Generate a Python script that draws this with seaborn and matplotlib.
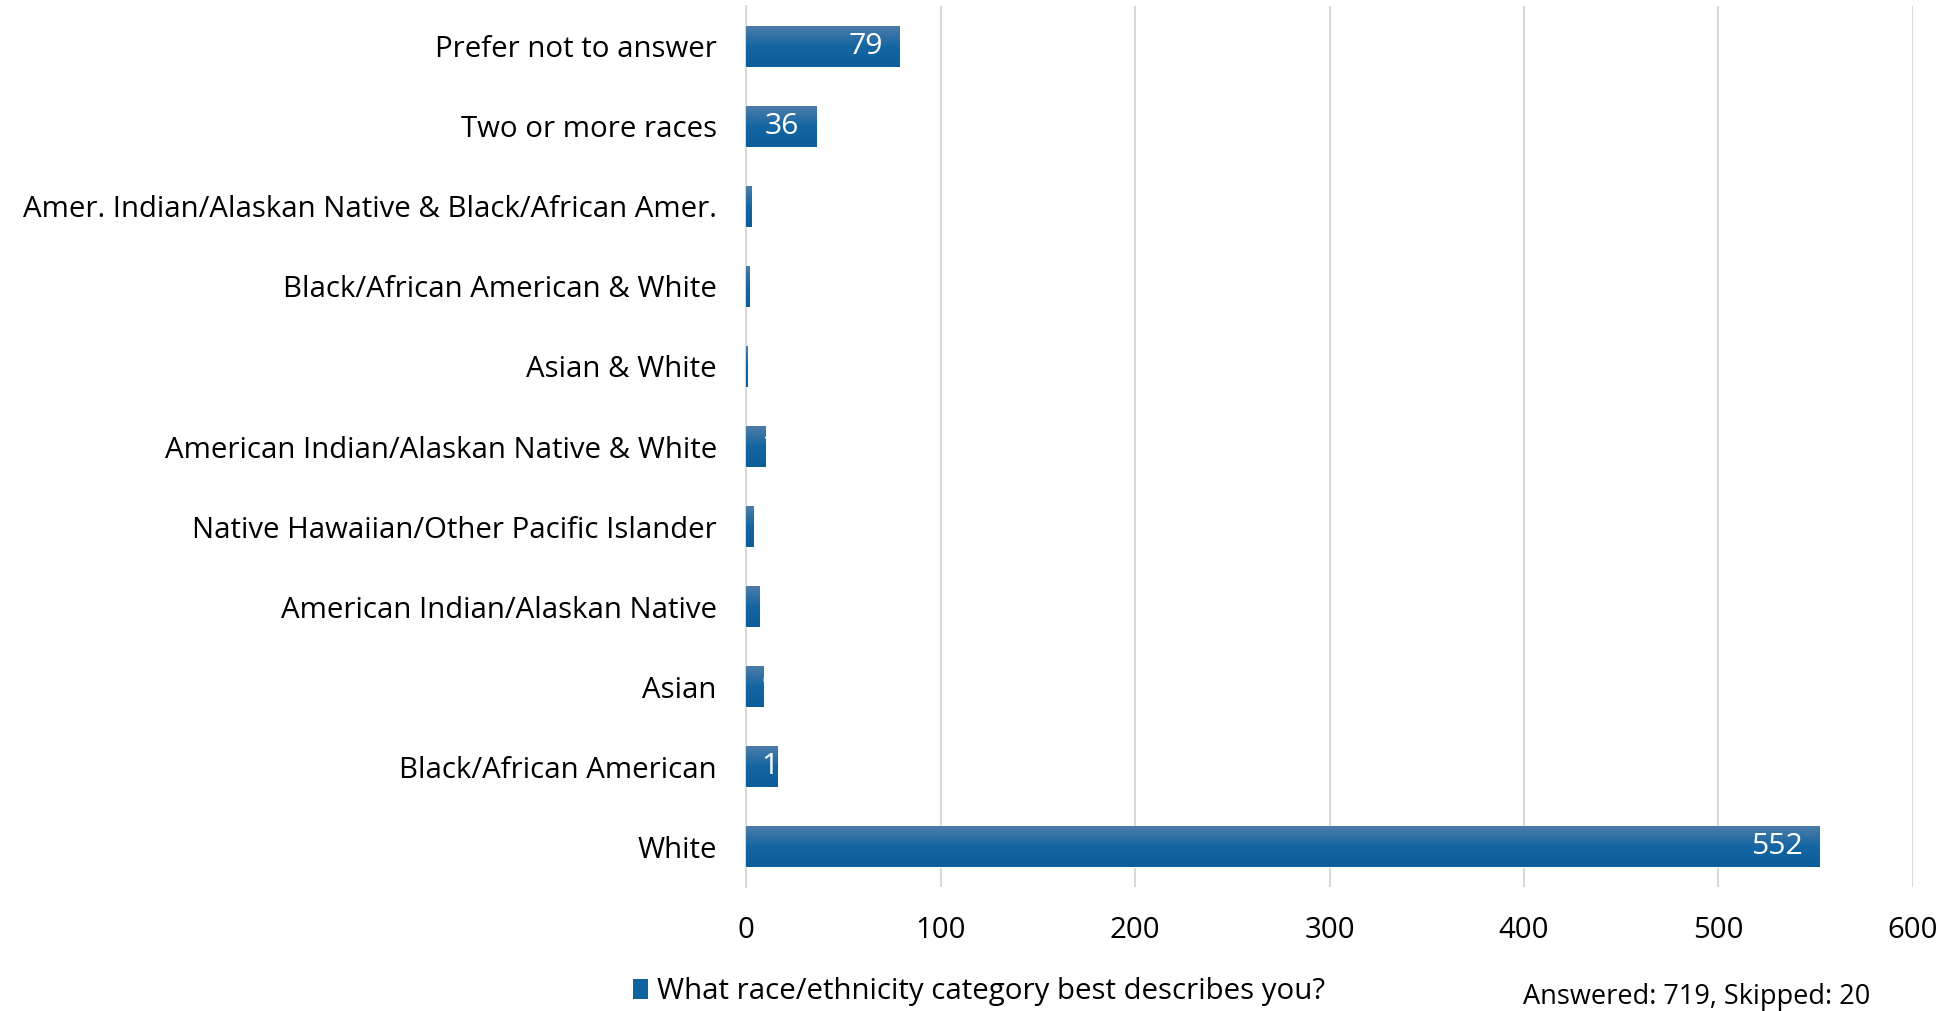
import matplotlib.pyplot as plt
import matplotlib.patches as mpatches
import numpy as np
import pandas as pd
import seaborn as sns
from matplotlib.colors import LinearSegmentedColormap

# survey answers, top to bottom as shown
categories = [
    "Prefer not to answer",
    "Two or more races",
    "Amer. Indian/Alaskan Native & Black/African Amer.",
    "Black/African American & White",
    "Asian & White",
    "American Indian/Alaskan Native & White",
    "Native Hawaiian/Other Pacific Islander",
    "American Indian/Alaskan Native",
    "Asian",
    "Black/African American",
    "White",
]
counts = [79, 36, 3, 2, 1, 10, 4, 7, 9, 16, 552]
x_ticks = [0, 100, 200, 300, 400, 500, 600]

legend_label = "What race/ethnicity category best describes you?"
footnote = "Answered: 719, Skipped: 20"

BAR_COLOR = "#0f64a0"
GRAD = LinearSegmentedColormap.from_list("bar", ["#4d7ca8", "#1466a3", "#0b5e98"])
FS = 21.2

sns.set_style("white")
plt.rcParams["font.family"] = ["Open Sans", "DejaVu Sans"]
plt.rcParams["text.color"] = "black"
plt.rcParams["xtick.color"] = "black"
plt.rcParams["ytick.color"] = "black"

df = pd.DataFrame({"category": categories, "count": counts})

fig = plt.figure(figsize=(19.54, 10.11), dpi=100)
ax = fig.add_axes([0.3818, 0.1227, 0.979 - 0.3818, 0.994 - 0.1227])

sns.barplot(data=df, y="category", x="count", order=categories, orient="h",
            color=BAR_COLOR, width=0.51, saturation=1, ax=ax, zorder=3)

ax.set_xlim(0, 600)
ax.set_ylim(len(categories) - 0.5, -0.5)
ax.set_xticks(x_ticks)
ax.grid(axis="x", color="#d9d9d9", linewidth=1.5, zorder=0)
ax.grid(axis="y", visible=False)
for s in ["top", "right", "bottom"]:
    ax.spines[s].set_visible(False)
ax.spines["left"].set_color("#d9d9d9")
ax.spines["left"].set_linewidth(1.5)
ax.set_xlabel("")
ax.set_ylabel("")
ax.tick_params(axis="x", length=0, pad=21, labelsize=FS, labelcolor="black")
ax.tick_params(axis="y", length=0, pad=21, labelsize=FS, labelcolor="black")

# gradient fill + value labels, clipped to each bar
grad = GRAD(np.linspace(0, 1, 64))[:, None, :3]
pad = 8.7
for bar, val in zip(ax.patches, counts):
    x0, y0 = bar.get_x(), bar.get_y()
    w, h = bar.get_width(), bar.get_height()
    ax.imshow(grad, extent=(x0, x0 + w, y0 + h, y0), aspect="auto",
              interpolation="bilinear", zorder=4)
    if val >= 30:
        tx, ha = val - pad, "right"
    else:
        tx, ha = 8.0, "left"
    t = ax.text(tx, y0 + h / 2, f"{val}", ha=ha, va="center",
                color="white", fontsize=FS + 0.5, zorder=5)
    t.set_clip_path(bar)

ax.set_xlim(0, 600)
ax.set_ylim(len(categories) - 0.5, -0.5)

handle = mpatches.Patch(facecolor=BAR_COLOR, edgecolor="none", label=legend_label)
fig.legend(handles=[handle], loc="center left", bbox_to_anchor=(0.318, 0.0188),
           frameon=False, fontsize=FS, handlelength=0.5, handleheight=0.65,
           handletextpad=0.3, borderaxespad=0)

fig.text(1523 / 1954, 0.0, footnote, ha="left", va="bottom", fontsize=FS - 1.7)

fig.savefig("out.png", dpi=100)
